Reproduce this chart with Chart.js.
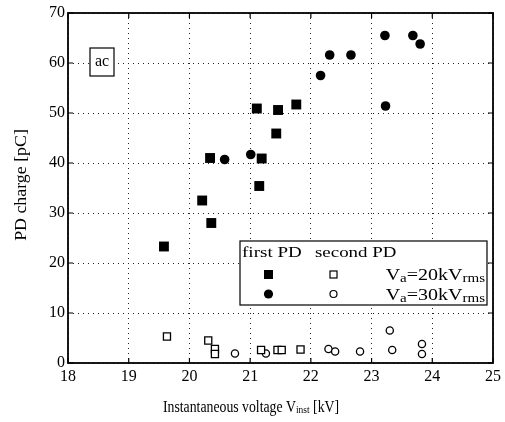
<!DOCTYPE html>
<html>
<head>
<meta charset="utf-8">
<script src="https://cdn.jsdelivr.net/npm/chart.js@4/dist/chart.umd.min.js"></script>
<style>
  body { margin: 0; background: #fff; }
  #wrap { width: 505px; height: 422px; }
</style>
</head>
<body>
<div id="wrap"><canvas id="chart" width="505" height="422"></canvas></div>
<script>
// values
const xTicks = [18, 19, 20, 21, 22, 23, 24, 25];
const yTicks = [0, 10, 20, 30, 40, 50, 60, 70];

const firstX20 = [19.58, 20.21, 20.36, 20.34, 21.11, 21.15, 21.19, 21.43, 21.46, 21.76];
const firstY20 = [23.3, 32.5, 28.0, 41.0, 50.9, 35.4, 40.9, 45.9, 50.6, 51.7];
const firstX30 = [20.58, 21.01, 22.16, 22.31, 22.66, 23.22, 23.23, 23.68, 23.80];
const firstY30 = [40.7, 41.7, 57.5, 61.6, 61.6, 65.5, 51.4, 65.5, 63.8];
const secondX20 = [19.63, 20.31, 20.42, 20.42, 21.18, 21.45, 21.52, 21.83];
const secondY20 = [5.3, 4.5, 2.8, 1.8, 2.6, 2.6, 2.6, 2.7];
const secondX30 = [20.75, 21.26, 22.29, 22.40, 22.81, 23.30, 23.34, 23.83, 23.83];
const secondY30 = [1.9, 1.9, 2.8, 2.3, 2.3, 6.5, 2.6, 3.8, 1.8];

const FONT = '"Liberation Serif", "Times New Roman", serif';

const toPoints = (xs, ys) => xs.map((x, i) => ({ x: x, y: ys[i] }));

// runs of text (with subscripts), squeezed or stretched horizontally by sx
const drawRuns = (ctx, runs, x, y, align, sx) => {
  let total = 0;
  runs.forEach((r) => {
    ctx.font = r.size + 'px ' + FONT;
    r.w = ctx.measureText(r.t).width;
    total += r.w;
  });
  let left = 0;
  if (align === 'center') left = -total / 2;
  if (align === 'right') left = -total;
  ctx.save();
  ctx.translate(x, y);
  ctx.scale(sx, 1);
  ctx.textAlign = 'left';
  ctx.textBaseline = 'alphabetic';
  runs.forEach((r) => {
    ctx.font = r.size + 'px ' + FONT;
    ctx.fillText(r.t, left, r.dy || 0);
    left += r.w;
  });
  ctx.restore();
};

const framePlugin = {
  id: 'frame',
  afterDatasetsDraw(chart) {
    const ctx = chart.ctx;
    const a = chart.chartArea;
    const xs = chart.scales.x;
    const ys = chart.scales.y;
    ctx.save();
    ctx.strokeStyle = '#000';
    ctx.lineWidth = 1.8;
    ctx.strokeRect(a.left, a.top, a.right - a.left, a.bottom - a.top);

    // short inward ticks on all four sides
    ctx.lineWidth = 1.2;
    ctx.beginPath();
    xTicks.forEach((v) => {
      const px = xs.getPixelForValue(v);
      ctx.moveTo(px, a.bottom); ctx.lineTo(px, a.bottom - 5);
      ctx.moveTo(px, a.top); ctx.lineTo(px, a.top + 5);
    });
    yTicks.forEach((v) => {
      const py = ys.getPixelForValue(v);
      ctx.moveTo(a.left, py); ctx.lineTo(a.left + 5, py);
      ctx.moveTo(a.right, py); ctx.lineTo(a.right - 5, py);
    });
    ctx.stroke();

    // "ac" tag
    ctx.fillStyle = '#fff';
    ctx.fillRect(90, 48, 24, 28);
    ctx.lineWidth = 1.2;
    ctx.strokeRect(90, 48, 24, 28);
    ctx.fillStyle = '#000';
    ctx.font = '16px ' + FONT;
    ctx.textAlign = 'center';
    ctx.textBaseline = 'middle';
    ctx.fillText('ac', 102, 62);

    // legend box
    ctx.fillStyle = '#fff';
    ctx.fillRect(240, 241, 247, 64);
    ctx.lineWidth = 1.2;
    ctx.strokeRect(240, 241, 247, 64);
    ctx.fillStyle = '#000';
    drawRuns(ctx, [{ t: 'first PD', size: 15 }], 242, 257, 'left', 1.27);
    drawRuns(ctx, [{ t: 'second PD', size: 15 }], 315, 257, 'left', 1.26);

    ctx.fillRect(264, 270, 9, 9);
    ctx.beginPath();
    ctx.arc(268.5, 294, 4.6, 0, Math.PI * 2);
    ctx.fill();
    ctx.lineWidth = 1.2;
    ctx.strokeRect(330, 271, 7, 7);
    ctx.beginPath();
    ctx.arc(333.5, 294, 3.5, 0, Math.PI * 2);
    ctx.stroke();

    const va = (val) => [
      { t: 'V', size: 16 },
      { t: 'a', size: 12, dy: 2 },
      { t: '=' + val + 'kV', size: 16 },
      { t: 'rms', size: 12, dy: 2 }
    ];
    drawRuns(ctx, va('20'), 485, 280, 'right', 1.25);
    drawRuns(ctx, va('30'), 485, 300, 'right', 1.25);

    // axis titles
    drawRuns(ctx, [
      { t: 'Instantaneous voltage V', size: 16 },
      { t: 'inst', size: 11, dy: 1 },
      { t: ' [kV]', size: 16 }
    ], 251, 412, 'center', 0.86);

    ctx.save();
    ctx.translate(26, 185);
    ctx.rotate(-Math.PI / 2);
    drawRuns(ctx, [{ t: 'PD charge [pC]', size: 17 }], 0, 0, 'center', 1.05);
    ctx.restore();
    ctx.restore();
  }
};

const dataset = (label, xs, ys, style, radius, filled) => ({
  label: label,
  data: toPoints(xs, ys),
  pointStyle: style,
  pointRadius: radius,
  pointHoverRadius: radius,
  pointBorderWidth: filled ? 0 : 1.3,
  pointBackgroundColor: filled ? '#000' : '#fff',
  pointBorderColor: '#000',
  showLine: false
});

const axisGrid = {
  color: '#222',
  lineWidth: 1,
  drawTicks: false
};

const chart = new Chart(document.querySelector('#chart'), {
  type: 'scatter',
  data: {
    datasets: [
      dataset('second PD 20', secondX20, secondY20, 'rect', 5, false),
      dataset('second PD 30', secondX30, secondY30, 'circle', 3.6, false),
      dataset('first PD 20', firstX20, firstY20, 'rect', 7, true),
      dataset('first PD 30', firstX30, firstY30, 'circle', 4.8, true)
    ]
  },
  options: {
    responsive: false,
    animation: false,
    layout: { padding: { top: 13, right: 7, left: 0, bottom: 0 } },
    plugins: {
      legend: { display: false },
      tooltip: { enabled: false }
    },
    scales: {
      x: {
        type: 'linear',
        min: 18,
        max: 25,
        afterBuildTicks: (s) => { s.ticks = xTicks.map((v) => ({ value: v })); },
        afterFit: (s) => { s.height = 59; },
        grid: axisGrid,
        border: { display: false, dash: [1, 4] },
        ticks: {
          color: '#000',
          padding: 4,
          maxRotation: 0,
          font: { family: FONT, size: 16 }
        }
      },
      y: {
        type: 'linear',
        min: 0,
        max: 70,
        afterBuildTicks: (s) => { s.ticks = yTicks.map((v) => ({ value: v })); },
        afterFit: (s) => { s.width = 68; },
        grid: axisGrid,
        border: { display: false, dash: [1, 4] },
        ticks: {
          color: '#000',
          padding: 3,
          font: { family: FONT, size: 16 }
        }
      }
    }
  },
  plugins: [framePlugin]
});
</script>
</body>
</html>
